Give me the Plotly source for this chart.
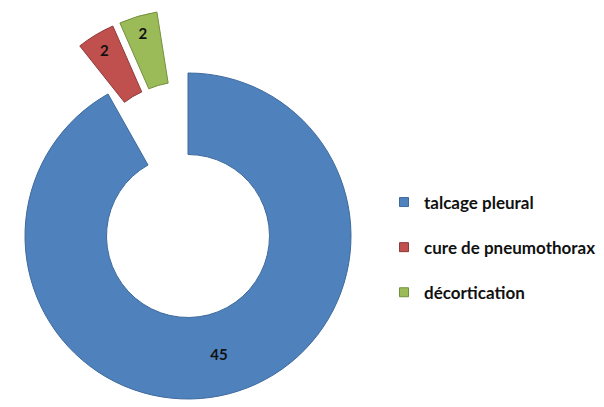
import plotly.graph_objects as go

categories = ["talcage pleural", "cure de pneumothorax", "décortication"]
values = [45, 2, 2]

fill_colors = ["#4F81BD", "#C0504D", "#9BBB59"]
edge_colors = ["#3E6A9C", "#8F3B39", "#74903F"]
transparent = "rgba(0,0,0,0)"

# page body has an 8px margin: figure sized to fit the 604x407 window
W, H = 596, 399

fig = go.Figure()

# main ring (talcage pleural): centre (180,228) in figure px, radius 163
fig.add_trace(go.Pie(
    labels=categories, values=values, sort=False, direction="clockwise",
    rotation=0, hole=0.5,
    domain=dict(x=[17 / W, 343 / W], y=[8 / H, 334 / H]),
    marker=dict(colors=[fill_colors[0], transparent, transparent],
                line=dict(color=[edge_colors[0], transparent, transparent], width=1)),
    text=[str(values[0]), "", ""], textinfo="text", textposition="inside",
    insidetextorientation="horizontal",
    textfont=dict(family="Lato", size=15, color="#111111", weight=700),
    showlegend=False, hoverinfo="skip",
))

# exploded slices (cure de pneumothorax, décortication)
fig.add_trace(go.Pie(
    labels=categories, values=values, sort=False, direction="clockwise",
    rotation=-9, hole=0.523, pull=[0, 0.2, 0.2],
    domain=dict(x=[0, 362 / W], y=[35 / H, 1]),
    marker=dict(colors=[transparent, fill_colors[1], fill_colors[2]],
                line=dict(color=[transparent, edge_colors[1], edge_colors[2]], width=1)),
    text=["", str(values[1]), str(values[2])], textinfo="text", textposition="inside",
    insidetextorientation="horizontal",
    textfont=dict(family="Lato", size=15, color="#111111", weight=700),
    showlegend=False, hoverinfo="skip",
))

# legend entries
for i, cat in enumerate(categories):
    fig.add_trace(go.Scatter(
        x=[None], y=[None], mode="markers", name=cat, legendgroup=cat,
        marker=dict(symbol="square", size=9, color=fill_colors[i],
                    line=dict(color=edge_colors[i], width=1)),
    ))

fig.update_layout(
    width=W, height=H,
    margin=dict(l=0, r=0, t=0, b=0),
    paper_bgcolor="white", plot_bgcolor="white",
    xaxis=dict(visible=False), yaxis=dict(visible=False),
    legend=dict(x=376 / W, xanchor="left", y=(H - 239.5) / H, yanchor="middle",
                font=dict(family="Lato", size=17, color="#111111", weight=700),
                tracegroupgap=20, itemwidth=30, bgcolor="rgba(0,0,0,0)"),
)

fig.write_html("out.html")
